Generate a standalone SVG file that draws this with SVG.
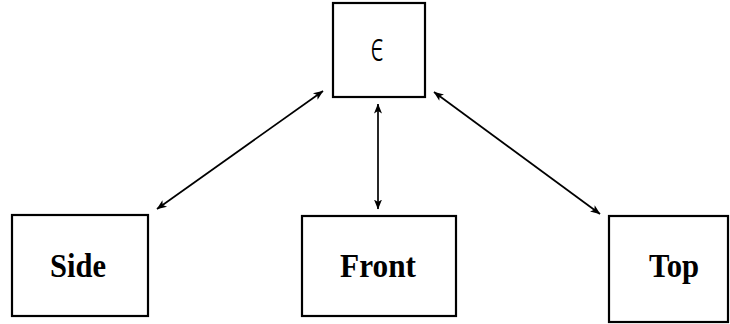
<svg xmlns="http://www.w3.org/2000/svg" width="730" height="324" viewBox="0 0 730 324">
  <style>
    .box { fill: #fff; stroke: #000; stroke-width: 2.2; }
    .lbl { font-family: "Liberation Serif", "Times New Roman", serif; font-weight: bold; font-size: 34px; text-anchor: middle; fill: #000; }
    .eps { font-family: "Noto Sans", "DejaVu Sans", sans-serif; font-weight: 300; font-size: 40px; text-anchor: middle; fill: #000; }
    .edge { stroke: #000; stroke-width: 1.7; fill: none; marker-start: url(#tip); marker-end: url(#tip); }
  </style>
  <defs>
    <marker id="tip" viewBox="0 0 10 10" refX="9.5" refY="5" markerWidth="10" markerHeight="10" markerUnits="userSpaceOnUse" orient="auto-start-reverse">
      <path d="M0,1 L10,5 L0,9 L2.5,5 Z" fill="#000"/>
    </marker>
  </defs>

  <g id="connectors">
    <line class="edge" x1="157" y1="209" x2="323" y2="91"/>
    <line class="edge" x1="378" y1="104" x2="378" y2="209"/>
    <line class="edge" x1="434" y1="92" x2="600" y2="214"/>
  </g>

  <g id="epsilon">
    <rect class="box" x="333" y="3" width="92" height="94"/>
    <text class="eps" transform="translate(377,61) scale(0.66,1)" x="0" y="0">ϵ</text>
  </g>
  <g id="side">
    <rect class="box" x="12" y="215" width="136" height="101"/>
    <text class="lbl" x="78" y="277" textLength="56" lengthAdjust="spacingAndGlyphs">Side</text>
  </g>
  <g id="front">
    <rect class="box" x="302" y="216" width="154" height="100"/>
    <text class="lbl" x="378" y="277" textLength="76" lengthAdjust="spacingAndGlyphs">Front</text>
  </g>
  <g id="top">
    <rect class="box" x="609" y="216" width="119" height="106"/>
    <text class="lbl" x="674" y="277" textLength="50" lengthAdjust="spacingAndGlyphs">Top</text>
  </g>
</svg>
